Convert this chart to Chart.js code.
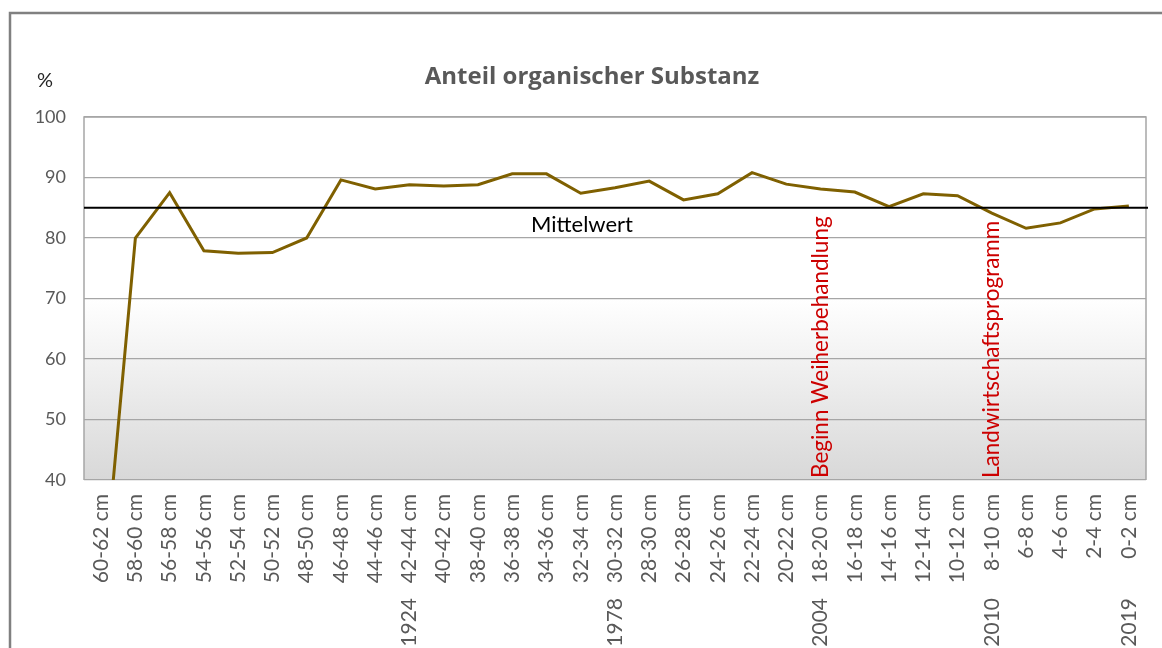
<!DOCTYPE html>
<html>
<head>
<meta charset="utf-8">
<script src="https://cdn.jsdelivr.net/npm/chart.js@4"></script>
<style>
  body { margin: 0; background: #ffffff; }
  canvas { display: block; }
</style>
</head>
<body>
<canvas id="Graf" width="1162" height="648"></canvas>
<script>
var tiefen = ["60-62 cm", "58-60 cm", "56-58 cm", "54-56 cm", "52-54 cm", "50-52 cm", "48-50 cm",
    "46-48 cm", "44-46 cm", "42-44 cm", "40-42 cm", "38-40 cm", "36-38 cm", "34-36 cm", "32-34 cm",
    "30-32 cm", "28-30 cm", "26-28 cm", "24-26 cm", "22-24 cm", "20-22 cm", "18-20 cm", "16-18 cm",
    "14-16 cm", "12-14 cm", "10-12 cm", "8-10 cm", "6-8 cm", "4-6 cm", "2-4 cm", "0-2 cm"];
var jahre = ["", "", "", "", "", "", "", "", "", "1924", "", "", "", "", "",
    "1978", "", "", "", "", "", "2004", "", "", "", "", "2010", "", "", "", "2019"];
var organisch = [18, 80, 87.5, 77.9, 77.5, 77.6, 80, 89.6, 88.1, 88.8, 88.6, 88.8, 90.6, 90.6, 87.4,
    88.3, 89.4, 86.3, 87.3, 90.8, 88.9, 88.1, 87.6, 85.2, 87.3, 87.0, 84.1, 81.6, 82.5, 84.8, 85.3];
var mittelwert = 85;
var ereignisTiefe = ["18-20 cm", "8-10 cm"];
var ereignisText = ["Beginn Weiherbehandlung", "Landwirtschaftsprogramm"];
var yMin = 40;
var yMax = 100;
var graf;

var tekster = {
    id: "tekster",
    beforeDraw: function (chart) {
        var ctx = chart.ctx;
        var a = chart.chartArea;
        var y = chart.scales.y;
        // grauer Verlauf im unteren Teil
        var top70 = y.getPixelForValue(70);
        var g = ctx.createLinearGradient(0, top70, 0, a.bottom);
        g.addColorStop(0, "#ffffff");
        g.addColorStop(1, "#d8d8d8");
        ctx.save();
        ctx.fillStyle = g;
        ctx.fillRect(a.left, top70, a.right - a.left, a.bottom - top70);
        ctx.restore();
    },
    afterDatasetsDraw: function (chart) {
        var ctx = chart.ctx;
        var a = chart.chartArea;
        var x = chart.scales.x;
        var y = chart.scales.y;
        ctx.save();
        // Rahmen Plotfläche
        ctx.strokeStyle = "#a6a6a6";
        ctx.lineWidth = 1.5;
        ctx.beginPath();
        ctx.moveTo(a.left, a.bottom);
        ctx.lineTo(a.left, a.top);
        ctx.lineTo(a.right, a.top);
        ctx.lineTo(a.right, a.bottom);
        ctx.stroke();

        // Mittelwert
        var my = y.getPixelForValue(mittelwert);
        ctx.strokeStyle = "#000000";
        ctx.lineWidth = 2;
        ctx.beginPath();
        ctx.moveTo(a.left, my);
        ctx.lineTo(a.right + 2, my);
        ctx.stroke();
        ctx.fillStyle = "#000000";
        ctx.font = "22px Lato";
        ctx.textAlign = "center";
        ctx.textBaseline = "middle";
        ctx.fillText("Mittelwert", 582, my + 17);

        // Ereignisse
        ctx.fillStyle = "#cc0000";
        ctx.font = "22.5px Lato";
        ctx.textAlign = "left";
        for (var i = 0; i < ereignisTiefe.length; i++) {
            var px = x.getPixelForValue(tiefen.indexOf(ereignisTiefe[i]));
            ctx.save();
            ctx.translate(px, a.bottom - 2);
            ctx.rotate(-Math.PI / 2);
            ctx.fillText(ereignisText[i], 0, 0);
            ctx.restore();
        }

        // Titel und Einheit
        ctx.fillStyle = "#595959";
        ctx.font = "bold 24px 'Open Sans'";
        ctx.textAlign = "center";
        ctx.textBaseline = "alphabetic";
        ctx.fillText("Anteil organischer Substanz", 592, 84);
        ctx.fillStyle = "#262626";
        ctx.font = "20px Lato";
        ctx.textAlign = "left";
        ctx.fillText("%", 37, 87);

        // äußerer Rahmen
        ctx.strokeStyle = "#808080";
        ctx.lineWidth = 2.5;
        ctx.beginPath();
        ctx.moveTo(10, 648);
        ctx.lineTo(10, 13);
        ctx.lineTo(1162, 13);
        ctx.stroke();
        ctx.restore();
    }
};

function CreateChart() {
    graf = new Chart("Graf", {
        type: "line",
        data: {
            labels: tiefen,
            datasets: [{
                data: organisch,
                borderColor: "#7f6000",
                borderWidth: 3,
                pointRadius: 0,
                pointHoverRadius: 0,
                fill: false,
                tension: 0,
                xAxisID: "x",
                yAxisID: "y"
            }]
        },
        options: {
            responsive: false,
            animation: false,
            layout: { padding: { top: 117, right: 16, left: 0, bottom: 0 } },
            plugins: {
                legend: { display: false },
                tooltip: { enabled: false }
            },
            scales: {
                y: {
                    min: yMin,
                    max: yMax,
                    ticks: { stepSize: 10, color: "#595959", font: { family: "Lato", size: 18 }, padding: 18 },
                    grid: { color: "#a6a6a6", lineWidth: 1.2, drawTicks: false },
                    border: { display: false },
                    afterFit: function (s) { s.width = 84; s.paddingTop = 0; s.paddingBottom = 0; }
                },
                x: {
                    offset: true,
                    ticks: { minRotation: 90, maxRotation: 90, autoSkip: false, color: "#595959",
                        font: { family: "Lato", size: 21 }, padding: 14 },
                    grid: { display: false, drawTicks: false },
                    border: { display: false },
                    afterFit: function (s) { s.height = 108; s.paddingLeft = 0; s.paddingRight = 0; }
                },
                x2: {
                    type: "category",
                    labels: jahre,
                    offset: true,
                    position: "bottom",
                    ticks: { minRotation: 90, maxRotation: 90, autoSkip: false, color: "#595959",
                        font: { family: "Lato", size: 21 }, padding: 10 },
                    grid: { display: false, drawTicks: false },
                    border: { display: false },
                    afterFit: function (s) { s.height = 60; s.paddingLeft = 0; s.paddingRight = 0; }
                }
            }
        },
        plugins: [tekster]
    });
}

CreateChart();
</script>
</body>
</html>
